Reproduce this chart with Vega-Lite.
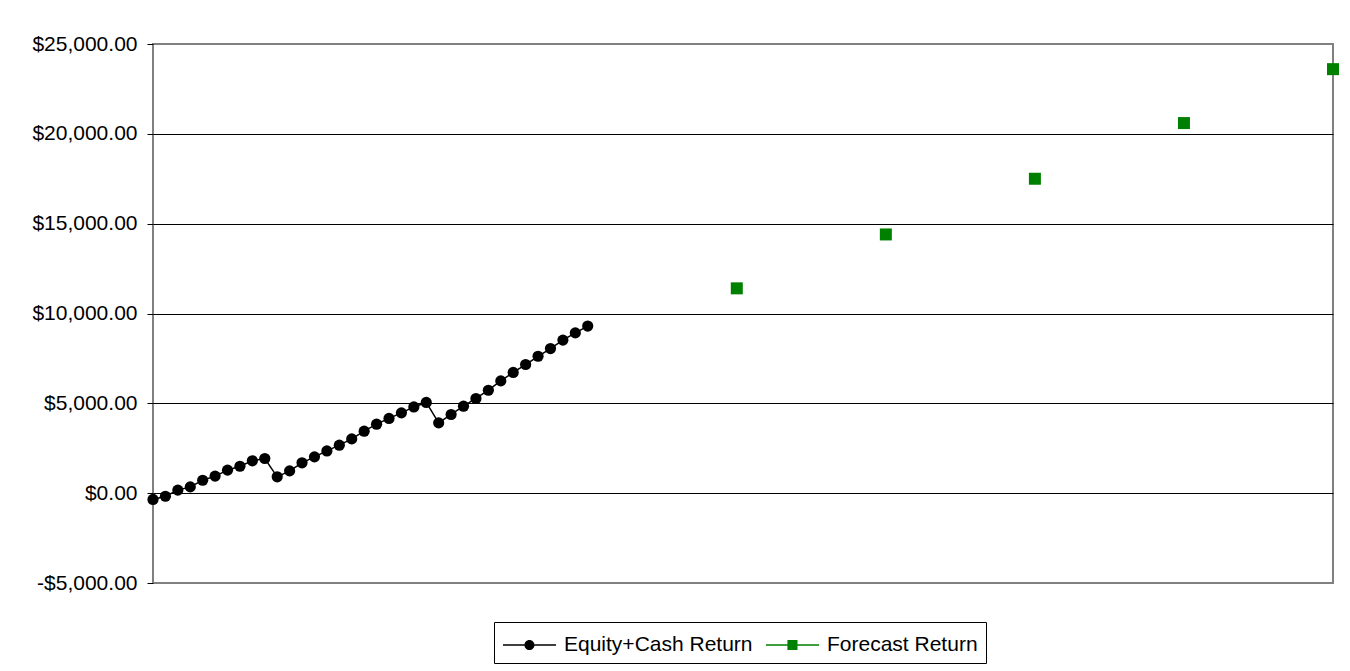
{
  "$schema": "https://vega.github.io/schema/vega-lite/v6.json",
  "width": 1180,
  "height": 539,
  "autosize": {"type": "none"},
  "padding": {"left": 153, "top": 44, "right": 17, "bottom": 88},
  "background": "white",
  "config": {
    "font": "Liberation Sans",
    "view": {"stroke": "#808080", "strokeWidth": 2}
  },
  "data": {
    "values": [
      {"period": 0, "value": -350, "series": "Equity+Cash Return"},
      {"period": 1, "value": -170, "series": "Equity+Cash Return"},
      {"period": 2, "value": 170, "series": "Equity+Cash Return"},
      {"period": 3, "value": 350, "series": "Equity+Cash Return"},
      {"period": 4, "value": 720, "series": "Equity+Cash Return"},
      {"period": 5, "value": 950, "series": "Equity+Cash Return"},
      {"period": 6, "value": 1280, "series": "Equity+Cash Return"},
      {"period": 7, "value": 1500, "series": "Equity+Cash Return"},
      {"period": 8, "value": 1800, "series": "Equity+Cash Return"},
      {"period": 9, "value": 1930, "series": "Equity+Cash Return"},
      {"period": 10, "value": 910, "series": "Equity+Cash Return"},
      {"period": 11, "value": 1240, "series": "Equity+Cash Return"},
      {"period": 12, "value": 1690, "series": "Equity+Cash Return"},
      {"period": 13, "value": 2020, "series": "Equity+Cash Return"},
      {"period": 14, "value": 2350, "series": "Equity+Cash Return"},
      {"period": 15, "value": 2670, "series": "Equity+Cash Return"},
      {"period": 16, "value": 3020, "series": "Equity+Cash Return"},
      {"period": 17, "value": 3450, "series": "Equity+Cash Return"},
      {"period": 18, "value": 3840, "series": "Equity+Cash Return"},
      {"period": 19, "value": 4160, "series": "Equity+Cash Return"},
      {"period": 20, "value": 4470, "series": "Equity+Cash Return"},
      {"period": 21, "value": 4800, "series": "Equity+Cash Return"},
      {"period": 22, "value": 5050, "series": "Equity+Cash Return"},
      {"period": 23, "value": 3910, "series": "Equity+Cash Return"},
      {"period": 24, "value": 4380, "series": "Equity+Cash Return"},
      {"period": 25, "value": 4840, "series": "Equity+Cash Return"},
      {"period": 26, "value": 5270, "series": "Equity+Cash Return"},
      {"period": 27, "value": 5730, "series": "Equity+Cash Return"},
      {"period": 28, "value": 6250, "series": "Equity+Cash Return"},
      {"period": 29, "value": 6720, "series": "Equity+Cash Return"},
      {"period": 30, "value": 7160, "series": "Equity+Cash Return"},
      {"period": 31, "value": 7620, "series": "Equity+Cash Return"},
      {"period": 32, "value": 8050, "series": "Equity+Cash Return"},
      {"period": 33, "value": 8520, "series": "Equity+Cash Return"},
      {"period": 34, "value": 8920, "series": "Equity+Cash Return"},
      {"period": 35, "value": 9300, "series": "Equity+Cash Return"},
      {"period": 47, "value": 11400, "series": "Forecast Return"},
      {"period": 59, "value": 14400, "series": "Forecast Return"},
      {"period": 71, "value": 17500, "series": "Forecast Return"},
      {"period": 83, "value": 20600, "series": "Forecast Return"},
      {"period": 95, "value": 23600, "series": "Forecast Return"}
    ]
  },
  "encoding": {
    "x": {
      "field": "period",
      "type": "quantitative",
      "scale": {"domain": [0, 95], "nice": false, "zero": false},
      "axis": null
    },
    "y": {
      "field": "value",
      "type": "quantitative",
      "scale": {"domain": [-5000, 25000], "nice": false},
      "axis": {
        "title": null,
        "values": [-5000, 0, 5000, 10000, 15000, 20000, 25000],
        "labelExpr": "datum.value < 0 ? '-$' + format(-datum.value, ',.2f') : '$' + format(datum.value, ',.2f')",
        "labelFont": "Liberation Sans",
        "labelFontSize": 21,
        "labelColor": "black",
        "labelPadding": 10,
        "tickColor": "black",
        "tickSize": 6,
        "domain": false,
        "grid": true,
        "gridColor": {"condition": {"test": "datum.value == 25000 || datum.value == -5000", "value": "#808080"}, "value": "black"},
        "gridWidth": 1
      }
    }
  },
  "layer": [
    {
      "transform": [{"filter": "datum.series == 'Equity+Cash Return'"}],
      "mark": {"type": "line", "color": "black", "strokeWidth": 1.5},
      "encoding": {}
    },
    {
      "mark": {"type": "point", "filled": true, "opacity": 1, "strokeWidth": 0},
      "encoding": {
        "color": {"condition": {"test": "datum.series == 'Forecast Return'", "value": "#008000"}, "value": "#000000"},
        "shape": {"condition": {"test": "datum.series == 'Forecast Return'", "value": "square"}, "value": "circle"},
        "size": {"condition": {"test": "datum.series == 'Forecast Return'", "value": 144}, "value": 125}
      }
    },
    {
      "transform": [{"filter": "datum.period < 0"}],
      "mark": {"type": "point", "filled": true, "opacity": 1, "strokeWidth": 0},
      "encoding": {
        "color": {
          "field": "series",
          "type": "nominal",
          "scale": {"domain": ["Equity+Cash Return", "Forecast Return"], "range": ["#000000", "#008000"]},
          "legend": {
            "title": null,
            "orient": "none",
            "direction": "horizontal",
            "legendX": 341,
            "legendY": 578,
            "fillColor": "white",
            "strokeColor": "black",
            "padding": 8,
            "cornerRadius": 0,
            "labelFont": "Liberation Sans",
            "labelFontSize": 21,
            "labelColor": "black",
            "labelLimit": 400,
            "labelOffset": 32,
            "columnPadding": 10,
            "symbolSize": 784,
            "symbolOpacity": 1
          }
        },
        "shape": {
          "field": "series",
          "type": "nominal",
          "scale": {
            "domain": ["Equity+Cash Return", "Forecast Return"],
            "range": [
              "M-1,-0.055H0.53V0.055H-1Z M1.25,-0.055H2.79V0.055H1.25Z M0.53,0A0.36,0.36 0 1,1 1.25,0A0.36,0.36 0 1,1 0.53,0Z",
              "M-1,-0.055H0.53V0.055H-1Z M1.25,-0.055H2.79V0.055H1.25Z M0.53,-0.36H1.25V0.36H0.53Z"
            ]
          }
        }
      }
    }
  ]
}
